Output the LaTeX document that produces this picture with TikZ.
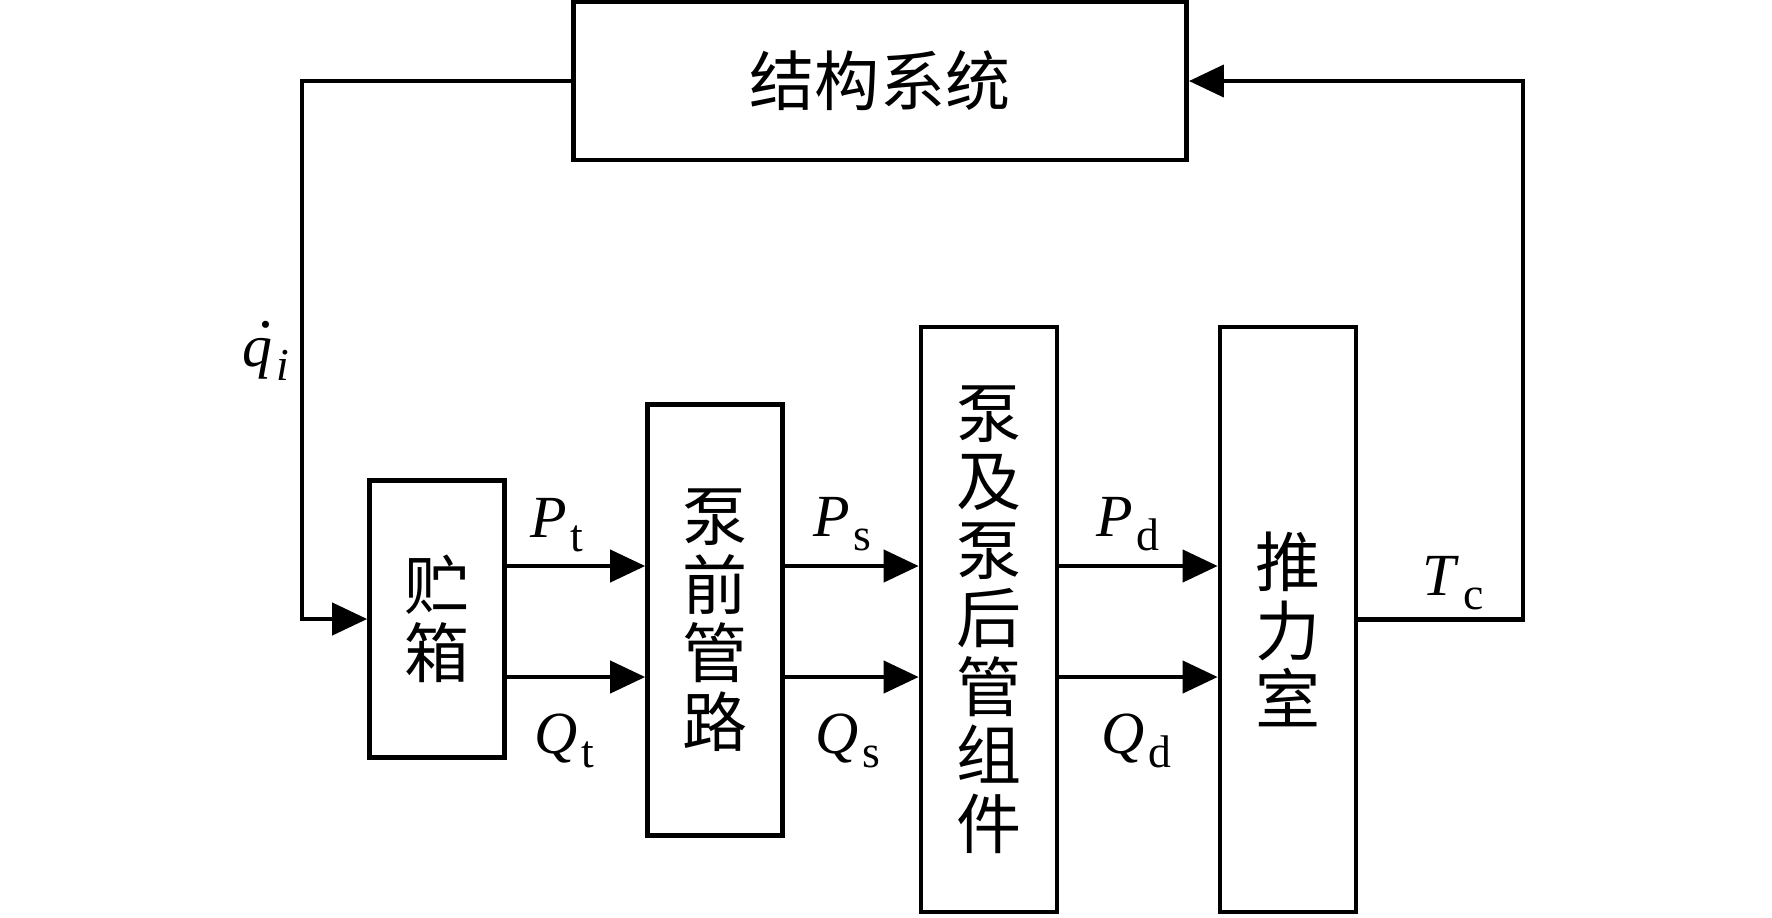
\documentclass[tikz,border=0pt]{standalone}
\usepackage{fontspec}
\setmainfont{Liberation Serif}
\newfontfamily\cjk{Noto Sans CJK SC}
\usetikzlibrary{arrows.meta}
\newcommand{\sym}[2]{\textit{#1}\kern1pt\raisebox{-4pt}{\fontsize{13}{13}\selectfont #2}}

\begin{document}
\begin{tikzpicture}[
  x=0.01cm, y=-0.01cm,
  >={Triangle[length=3.5mm, width=3.2mm]},
  cjktext/.style={align=center, inner sep=0pt,
              font=\cjk\fontsize{18.5}{19.5}\selectfont},
  blk/.style={cjktext, draw, line width=1.3pt},
  lbl/.style={anchor=base west, inner sep=0pt, font=\fontsize{17}{17}\selectfont},
  wire/.style={line width=1.2pt},
]
  \useasboundingbox (0,0) rectangle (1772,917);

  % Structure block
  \node[blk, minimum width=6.13cm, minimum height=1.58cm] (struct) at (880,81) {结构系统};

  % Feed chain blocks
  \node[blk, minimum width=1.35cm, minimum height=2.77cm] (tank) at (437,619) {贮\\箱};
  \node[blk, minimum width=1.35cm, minimum height=4.31cm] (prepipe) at (715,620) {泵\\前\\管\\路};
  \node[blk, minimum width=1.36cm, minimum height=5.85cm] (pump) at (989,619.5) {泵\\及\\泵\\后\\管\\组\\件};
  \node[blk, minimum width=1.36cm, minimum height=5.85cm] (thrust) at (1288,619.5) {};
  \node[cjktext] (thrusttxt) at ([yshift=-0.1cm]thrust.center) {推\\力\\室};

  % Rows and feedback buses
  \coordinate (prow) at (0,566);
  \coordinate (qrow) at (0,677);
  \coordinate (lbus) at (302,0);
  \coordinate (rbus) at (1523,0);

  % Pressure and flow arrows
  \draw[wire, ->] (tank.east |- prow) -- (prepipe.west |- prow);
  \draw[wire, ->] (tank.east |- qrow) -- (prepipe.west |- qrow);
  \draw[wire, ->] (prepipe.east |- prow) -- (pump.west |- prow);
  \draw[wire, ->] (prepipe.east |- qrow) -- (pump.west |- qrow);
  \draw[wire, ->] (pump.east |- prow) -- (thrust.west |- prow);
  \draw[wire, ->] (pump.east |- qrow) -- (thrust.west |- qrow);

  % Feedback loops
  \draw[wire, ->] (struct.west) -- (struct.west -| lbus) -- (tank.west -| lbus) -- (tank.west);
  \draw[wire, ->] (thrust.east) -- (thrust.east -| rbus) -- (struct.east -| rbus) -- (struct.east);

  % Signal labels
  \node[lbl] (qi) at (242,366) {\rlap{\kern4.4pt\raisebox{11pt}{.}}\textit{q}\kern1pt\raisebox{-4pt}{\fontsize{13}{13}\selectfont\textit{i}}};
  \node[lbl] (pt) at (530,537) {\sym{P}{t}};
  \node[lbl] (qt) at (534,753) {\sym{Q}{t}};
  \node[lbl] (ps) at (813,536) {\sym{P}{s}};
  \node[lbl] (qs) at (815,753) {\sym{Q}{s}};
  \node[lbl] (pd) at (1096,536) {\sym{P}{d}};
  \node[lbl] (qd) at (1101,753) {\sym{Q}{d}};
  \node[lbl] (tc) at (1422,595) {\sym{T}{c}};
\end{tikzpicture}
\end{document}
